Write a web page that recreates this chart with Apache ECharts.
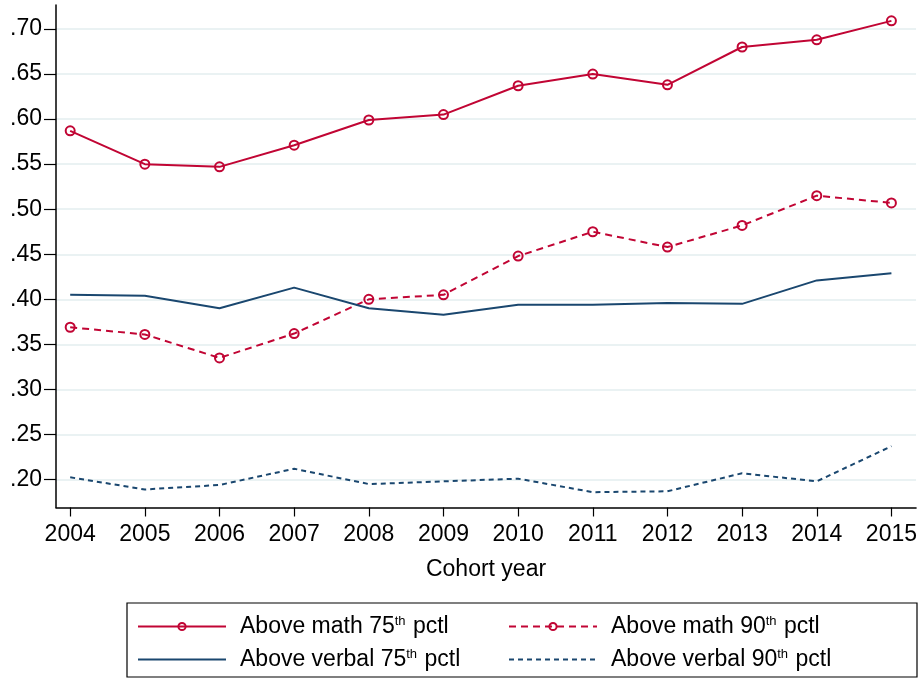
<!DOCTYPE html>
<html>
<head>
<meta charset="utf-8">
<script src="https://cdn.jsdelivr.net/npm/echarts@6/dist/echarts.min.js"></script>
<style>html,body{margin:0;padding:0;background:#fff}#c{width:920px;height:679px}</style>
</head>
<body>
<div id="c"></div>
<script>
const years = [2004, 2005, 2006, 2007, 2008, 2009, 2010, 2011, 2012, 2013, 2014, 2015];
const math75 = [0.587, 0.550, 0.547, 0.571, 0.599, 0.605, 0.637, 0.650, 0.638, 0.680, 0.688, 0.709];
const math90 = [0.369, 0.361, 0.335, 0.362, 0.400, 0.405, 0.448, 0.475, 0.458, 0.482, 0.515, 0.507];
const verbal75 = [0.405, 0.404, 0.390, 0.413, 0.390, 0.383, 0.394, 0.394, 0.396, 0.395, 0.421, 0.429];
const verbal90 = [0.2025, 0.189, 0.194, 0.212, 0.195, 0.198, 0.201, 0.186, 0.187, 0.207, 0.198, 0.237];
const yTicks = [0.20, 0.25, 0.30, 0.35, 0.40, 0.45, 0.50, 0.55, 0.60, 0.65, 0.70];
const names = ['Above math 75th pctl', 'Above math 90th pctl', 'Above verbal 75th pctl', 'Above verbal 90th pctl'];

const RED = '#c10534', BLUE = '#1a476f';
const FONT = 'Liberation Sans';
const FS = 23;
const pair = (arr) => years.map((y, i) => [y, arr[i]]);

function mk(name, data, color, dashed, marker) {
  return {
    name, type: 'line', data: pair(data),
    symbol: marker ? 'circle' : 'none', symbolSize: 9, showSymbol: marker,
    lineStyle: { color, width: 2, type: dashed },
    itemStyle: { color: 'rgba(255,255,255,0)', borderColor: color, borderWidth: 2 },
    emphasis: { disabled: true }, animation: false, z: 3
  };
}

const richStyle = {
  n: { fontSize: FS, fontFamily: FONT, color: '#000' },
  s: { fontSize: 13, fontFamily: FONT, color: '#000', verticalAlign: 'top', padding: [0, 1, 9, 0] }
};
function fmt(name) {
  const m = name.match(/^(.*\d\d)th( pctl)$/);
  return '{n|' + m[1] + '}{s|th}{n|' + m[2] + '}';
}
function lg(name, left, top, marker) {
  const item = { name };
  if (!marker) item.itemStyle = { borderColor: 'rgba(0,0,0,0)', borderWidth: 0 };
  return {
    data: [item], left, top, itemWidth: 88, itemHeight: 9, padding: 0,
    formatter: fmt, selectedMode: false,
    textStyle: { rich: richStyle, padding: [0, 0, 0, 9] }
  };
}

const chart = echarts.init(document.getElementById('c'));
chart.setOption({
  backgroundColor: '#fff',
  animation: false,
  grid: { left: 56, right: 0, top: 5, bottom: 171.5 },
  xAxis: {
    type: 'value', min: 2003.81, max: 2015.33,
    name: 'Cohort year', nameLocation: 'middle', nameGap: 51,
    nameTextStyle: { fontSize: FS, fontFamily: FONT, color: '#000' },
    axisLine: { lineStyle: { color: '#000', width: 1.5 } },
    axisTick: { customValues: years, length: 9, lineStyle: { color: '#000', width: 1.2 } },
    axisLabel: { customValues: years, fontSize: FS, fontFamily: FONT, color: '#000', margin: 16, formatter: v => String(v) },
    splitLine: { show: false }
  },
  yAxis: {
    type: 'value', min: 0.169, max: 0.7266,
    axisLine: { show: true, lineStyle: { color: '#000', width: 1.5 } },
    axisTick: { show: true, customValues: yTicks, length: 12, lineStyle: { color: '#000', width: 1.2 } },
    axisLabel: { customValues: yTicks, fontSize: FS, fontFamily: FONT, color: '#000', margin: 14,
      formatter: v => '.' + v.toFixed(2).slice(2) },
    splitLine: { show: true, lineStyle: { color: '#eaf2f3', width: 2 } }
  },
  legend: [
    lg(names[0], 137, 615, true),
    lg(names[1], 508, 615, true),
    lg(names[2], 137, 648, false),
    lg(names[3], 508, 648, false)
  ],
  graphic: [{
    type: 'rect', shape: { x: 127, y: 603, width: 790, height: 74 },
    style: { fill: 'none', stroke: '#000', lineWidth: 1.2 }, silent: true
  }],
  series: [
    mk(names[0], math75, RED, 'solid', true),
    mk(names[1], math90, RED, [7, 5], true),
    mk(names[2], verbal75, BLUE, 'solid', false),
    mk(names[3], verbal90, BLUE, [5, 4], false)
  ]
});
</script>
</body>
</html>
